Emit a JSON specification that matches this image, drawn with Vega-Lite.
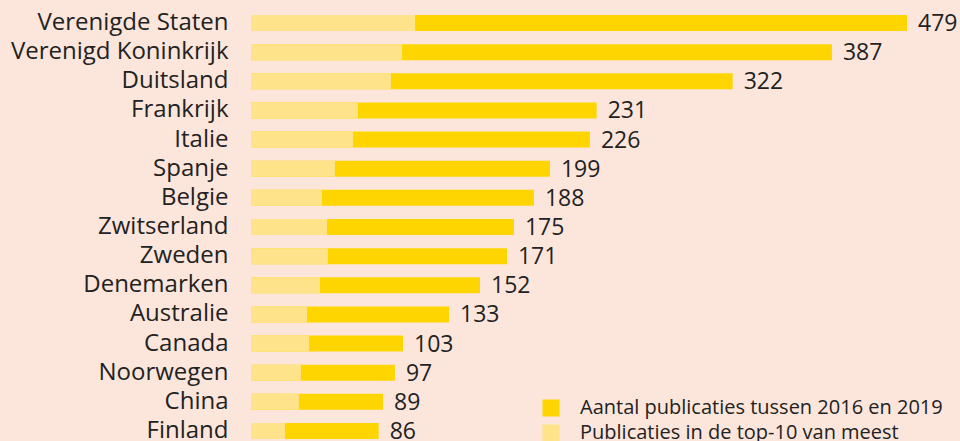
{
  "$schema": "https://vega.github.io/schema/vega-lite/v6.json",
  "autosize": "none",
  "width": 709,
  "height": 424,
  "padding": {"left": 251, "top": 15, "right": 0, "bottom": 2},
  "background": "#FCE6DB",
  "config": {
    "view": {"stroke": null},
    "font": "Open Sans",
    "text": {"font": "Open Sans"}
  },
  "data": {
    "values": [
      {"land": "Verenigde Staten", "aantal": 479, "balk": 479.0, "top10": 119.8},
      {"land": "Verenigd Koninkrijk", "aantal": 387, "balk": 424.2, "top10": 110.3},
      {"land": "Duitsland", "aantal": 322, "balk": 351.7, "top10": 102.2},
      {"land": "Frankrijk", "aantal": 231, "balk": 252.4, "top10": 78.1},
      {"land": "Italie", "aantal": 226, "balk": 247.5, "top10": 74.5},
      {"land": "Spanje", "aantal": 199, "balk": 218.3, "top10": 61.3},
      {"land": "Belgie", "aantal": 188, "balk": 206.6, "top10": 51.8},
      {"land": "Zwitserland", "aantal": 175, "balk": 192.0, "top10": 55.5},
      {"land": "Zweden", "aantal": 171, "balk": 186.9, "top10": 56.2},
      {"land": "Denemarken", "aantal": 152, "balk": 167.2, "top10": 50.4},
      {"land": "Australie", "aantal": 133, "balk": 144.6, "top10": 40.9},
      {"land": "Canada", "aantal": 103, "balk": 111.0, "top10": 42.4},
      {"land": "Noorwegen", "aantal": 97, "balk": 105.1, "top10": 36.5},
      {"land": "China", "aantal": 89, "balk": 96.4, "top10": 35.0},
      {"land": "Finland", "aantal": 86, "balk": 93.2, "top10": 24.8}
    ]
  },
  "encoding": {
    "y": {
      "field": "land",
      "type": "nominal",
      "sort": null,
      "scale": {"paddingInner": 0.451, "paddingOuter": 0},
      "axis": {
        "title": null,
        "domain": false,
        "ticks": false,
        "labelFont": "Open Sans",
        "labelFontSize": 24,
        "labelColor": "#222222",
        "labelPadding": 23,
        "labelOffset": 0,
        "labelLimit": 400
      }
    }
  },
  "layer": [
    {
      "mark": {"type": "bar"},
      "encoding": {
        "x": {
          "field": "balk",
          "type": "quantitative",
          "scale": {"domain": [0, 517.7], "nice": false},
          "axis": null
        },
        "color": {
          "datum": "Aantal publicaties tussen 2016 en 2019",
          "type": "nominal",
          "scale": {
            "domain": ["Aantal publicaties tussen 2016 en 2019", "Publicaties in de top-10 van meest"],
            "range": ["#FFD500", "#FEE38B"]
          },
          "legend": {
            "title": null,
            "orient": "none",
            "legendX": 290,
            "legendY": 383,
            "symbolType": "square",
            "symbolSize": 289,
            "symbolStrokeWidth": 0,
            "symbolOpacity": 1,
            "labelFont": "Open Sans",
            "labelFontSize": 20,
            "labelColor": "#222222",
            "labelOffset": 19,
            "rowPadding": 5,
            "padding": 0,
            "labelLimit": 600
          }
        }
      }
    },
    {
      "mark": {"type": "bar"},
      "encoding": {
        "x": {"field": "top10", "type": "quantitative"},
        "color": {"datum": "Publicaties in de top-10 van meest", "type": "nominal"}
      }
    },
    {
      "mark": {"type": "text", "align": "left", "baseline": "middle", "dx": 11, "dy": 1, "fontSize": 23, "color": "#222222", "font": "Open Sans"},
      "encoding": {
        "x": {"field": "balk", "type": "quantitative"},
        "text": {"field": "aantal", "type": "quantitative"}
      }
    }
  ]
}
